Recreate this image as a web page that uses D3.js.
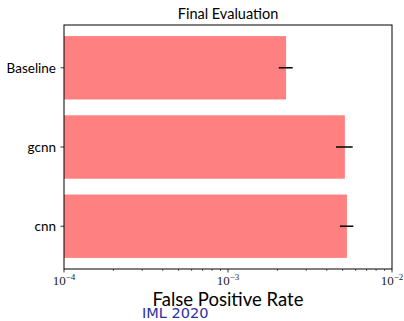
<!DOCTYPE html>
<html>
<head>
<meta charset="utf-8">
<script src="https://cdn.jsdelivr.net/npm/d3@7"></script>
<style>
  body { margin: 0; background: #fff; }
  svg { display: block; }
</style>
</head>
<body>
<svg id="chart" width="404" height="321"></svg>
<script>
// data
const categories = ['Baseline', 'gcnn', 'cnn']
const fprValues = [2.26e-3, 5.16e-3, 5.31e-3]
const fprErrors = [0.22e-3, 0.6e-3, 0.5e-3]
const xTickExps = [-4, -3, -2]

function drawChart() {
  const svg = d3.select('#chart')
  const left = 64, right = 392, top = 25, bottom = 269

  const x = d3.scaleLog()
    .domain([1e-4, 1e-2])
    .range([left, right])

  const y = d3.scaleBand()
    .domain(categories)
    .range([top, bottom])
    .paddingInner(0.2)
    .paddingOuter(0.14)

  const rows = categories.map((c, i) => ({ name: c, v: fprValues[i], e: fprErrors[i] }))

  // bars
  svg.selectAll('rect.bar')
    .data(rows)
    .join('rect')
    .attr('class', 'bar')
    .attr('x', x(1e-4))
    .attr('y', d => y(d.name))
    .attr('width', d => x(d.v) - x(1e-4))
    .attr('height', y.bandwidth())
    .attr('fill', '#ff8080')

  // error bars
  svg.selectAll('line.err')
    .data(rows)
    .join('line')
    .attr('class', 'err')
    .attr('x1', d => x(d.v - d.e))
    .attr('x2', d => x(d.v + d.e))
    .attr('y1', d => y(d.name) + y.bandwidth() / 2)
    .attr('y2', d => y(d.name) + y.bandwidth() / 2)
    .attr('stroke', 'black')
    .attr('stroke-width', 1.5)

  // frame
  svg.append('rect')
    .attr('x', left)
    .attr('y', top)
    .attr('width', right - left)
    .attr('height', bottom - top)
    .attr('fill', 'none')
    .attr('stroke', 'black')
    .attr('stroke-width', 1)

  // x ticks, major + minor
  const minor = []
  for (let e = -4; e < -2; e++) {
    for (let m = 2; m <= 9; m++) minor.push(m * Math.pow(10, e))
  }
  svg.selectAll('line.minor')
    .data(minor)
    .join('line')
    .attr('class', 'minor')
    .attr('x1', d => x(d)).attr('x2', d => x(d))
    .attr('y1', bottom).attr('y2', bottom + 2)
    .attr('stroke', 'black').attr('stroke-width', 0.6)

  svg.selectAll('line.major')
    .data(xTickExps)
    .join('line')
    .attr('class', 'major')
    .attr('x1', d => x(Math.pow(10, d))).attr('x2', d => x(Math.pow(10, d)))
    .attr('y1', bottom).attr('y2', bottom + 3.5)
    .attr('stroke', 'black').attr('stroke-width', 0.8)

  const xl = svg.selectAll('text.xlab')
    .data(xTickExps)
    .join('text')
    .attr('class', 'xlab')
    .attr('x', d => x(Math.pow(10, d)))
    .attr('y', 285)
    .attr('text-anchor', 'middle')
    .style('font-family', '"Liberation Serif", serif')
    .style('font-size', '13px')
    .attr('fill', '#222')
  xl.append('tspan').text('10')
  xl.append('tspan')
    .attr('dy', -5)
    .style('font-size', '9px')
    .text(d => '\u2212' + Math.abs(d))

  // y ticks
  svg.selectAll('line.ytick')
    .data(categories)
    .join('line')
    .attr('class', 'ytick')
    .attr('x1', left - 3.5).attr('x2', left)
    .attr('y1', d => y(d) + y.bandwidth() / 2)
    .attr('y2', d => y(d) + y.bandwidth() / 2)
    .attr('stroke', 'black').attr('stroke-width', 0.8)

  svg.selectAll('text.ylab')
    .data(categories)
    .join('text')
    .attr('class', 'ylab')
    .attr('x', left - 8)
    .attr('y', d => y(d) + y.bandwidth() / 2)
    .attr('dy', '0.35em')
    .attr('text-anchor', 'end')
    .style('font-family', 'Lato, sans-serif')
    .style('font-size', '13.5px')
    .text(d => d)

  // titles
  svg.append('text')
    .attr('x', (left + right) / 2)
    .attr('y', 19)
    .attr('text-anchor', 'middle')
    .style('font-family', 'Lato, sans-serif')
    .style('font-size', '14.5px')
    .text('Final Evaluation')

  svg.append('text')
    .attr('x', (left + right) / 2)
    .attr('y', 306)
    .attr('text-anchor', 'middle')
    .style('font-family', 'Lato, sans-serif')
    .style('font-size', '18.5px')
    .text('False Positive Rate')

  svg.append('text')
    .attr('x', 142)
    .attr('y', 318)
    .style('font-family', '"DejaVu Sans", sans-serif')
    .style('font-size', '14.5px')
    .attr('fill', '#2e2ea0')
    .text('IML 2020')
}

document.addEventListener('DOMContentLoaded', drawChart, false)
</script>
</body>
</html>
